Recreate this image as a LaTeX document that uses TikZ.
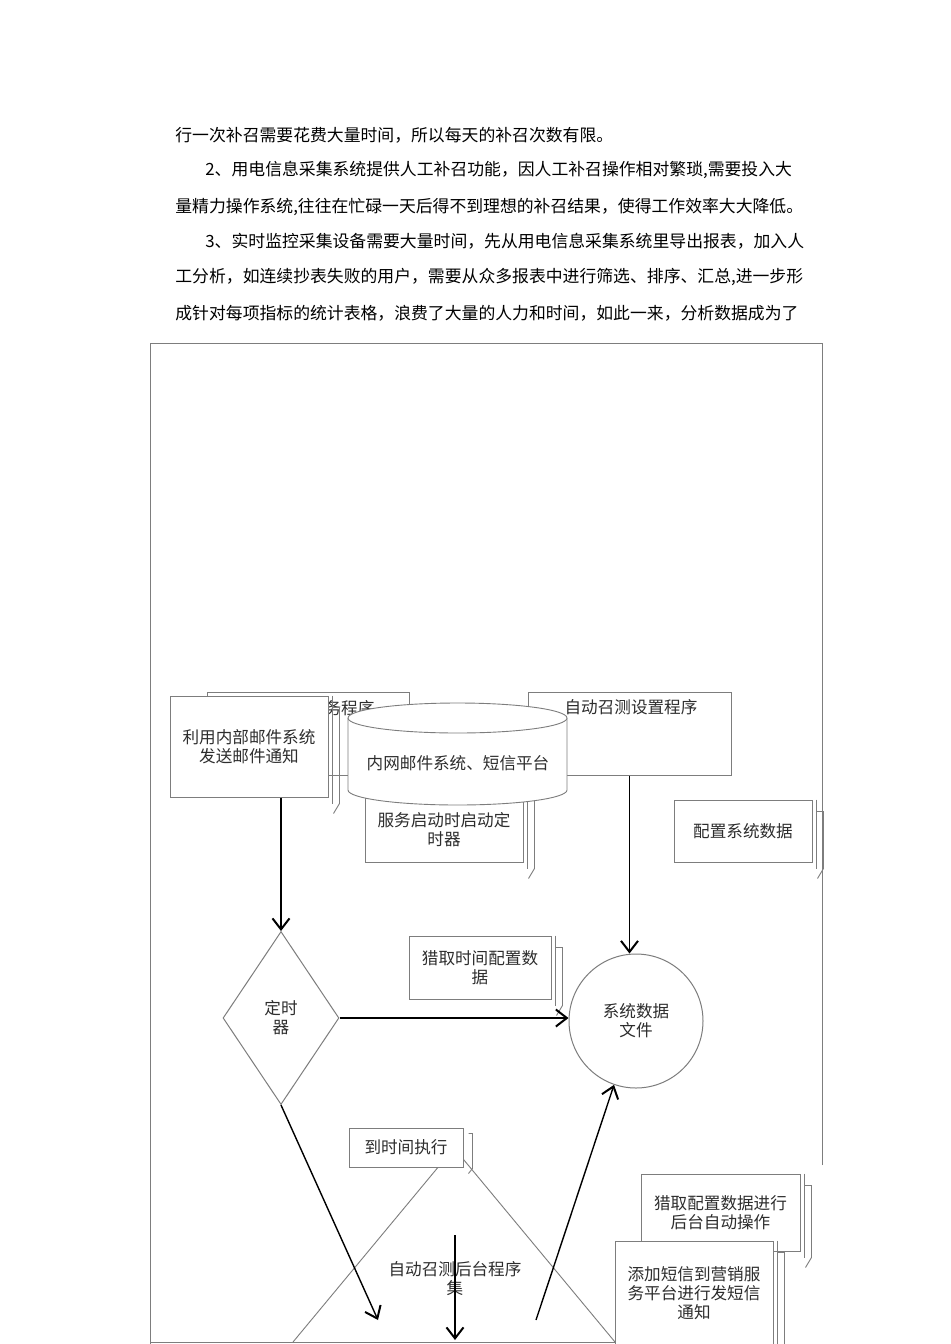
\documentclass[tikz,border=0pt]{standalone}
\usepackage{fontspec}
\setmainfont{Noto Sans CJK SC}
\usepackage{tikz}
\usetikzlibrary{arrows.meta,calc,positioning,shapes.geometric}
\definecolor{boxgray}{RGB}{125,125,125}
\definecolor{textgray}{RGB}{45,45,45}
\newcommand{\sidebrk}[1]{%
  \draw[thinline] ($(#1.north east)+(4,0)$) -- ($(#1.south east)+(4,6)$);
  \draw[thinline] ($(#1.north east)+(4,12)$) -- ++(7,0) -- ($(#1.south east)+(11,6)$) -- ++(-6,10);
}
\begin{document}
\begin{tikzpicture}[x=0.5pt,y=-0.5pt,
    sz/.style 2 args={minimum width=#1*0.5pt,minimum height=#2*0.5pt},
    box/.style={draw=boxgray,fill=white,line width=0.5pt,inner sep=0pt,align=center,text=textgray,font=\fontsize{8.3}{9.5}\selectfont},
    lbl/.style={inner sep=0pt,align=center,text=textgray,font=\fontsize{8.3}{9.5}\selectfont},
    para/.style={anchor=west,inner sep=0pt,font=\fontsize{8.42}{10}\selectfont},
    thinline/.style={draw=boxgray,line width=0.45pt},
    arr/.style={draw=black,line width=0.7pt,-{Straight Barb[length=5.5pt,width=8.5pt,line width=1pt]}}]
  \useasboundingbox[fill=white] (0,0) rectangle (950,1344);

  % text above the figure
  \node[para] (par1) at (175,135) {行一次补召需要花费大量时间，所以每天的补召次数有限。};
  \node[para] (par2) at (205,170) {2、用电信息采集系统提供人工补召功能，因人工补召操作相对繁琐,需要投入大};
  \node[para] (par3) at (175,207) {量精力操作系统,往往在忙碌一天后得不到理想的补召结果，使得工作效率大大降低。};
  \node[para] (par4) at (205,241) {3、实时监控采集设备需要大量时间，先从用电信息采集系统里导出报表，加入人};
  \node[para] (par5) at (175,277) {工分析，如连续抄表失败的用户，需要从众多报表中进行筛选、排序、汇总,进一步形};
  \node[para] (par6) at (175,313) {成针对每项指标的统计表格，浪费了大量的人力和时间，如此一来，分析数据成为了};

  % frame
  \draw[thinline] (822,1165) -- (822,343) -- (150,343) -- (150,1344);
  \draw[thinline] (150,1342) -- (773,1342);

  % upper boxes
  \node[box,sz={202}{83}] (svcprog) at (308,733.5) {};
  \node[lbl] (svcprog-t) at (308,708) {自动召测服务程序};
  \node[box,sz={158}{101}] (mailbox) at (249,746.5) {利用内部邮件系统\\发送邮件通知};
  \sidebrk{mailbox}
  \node[box,sz={203}{83}] (setup) at (629.5,733.5) {};
  \node[lbl] (setup-t) at (631,707) {自动召测设置程序};
  \node[box,sz={158}{82}] (svcstart) at (444,821) {};
  \node[lbl] (svcstart-t) at (444,830) {服务启动时启动定\\时器};
  \sidebrk{svcstart}

  % cylinder
  \fill[white] (348,718) -- (348,790) arc[start angle=180,end angle=360,x radius=54.75pt,y radius=7.5pt] -- (567,718) -- cycle;
  \draw[thinline] (348,718) -- (348,790) arc[start angle=180,end angle=360,x radius=54.75pt,y radius=7.5pt] -- (567,718);
  \filldraw[thinline,fill=white] (457.5,718) ellipse[x radius=54.75pt,y radius=7.5pt];
  \node[lbl] (mailsys) at (458,763) {内网邮件系统、短信平台};

  \node[box,sz={138}{62}] (config) at (743,831) {配置系统数据};
  \sidebrk{config}

  % middle
  \node[box,diamond,sz={116}{173}] (timer) at (281,1018) {定时\\器};
  \node[box,sz={142}{63}] (gettime) at (480,967.5) {猎取时间配置数\\据};
  \sidebrk{gettime}
  \node[box,circle,minimum size=134*0.5pt] (datafile) at (636,1021) {系统数据\\文件};

  \draw[arr] (mailbox.south -| timer.north) -- (timer.north);
  \draw[arr] (setup.south) -- (setup.south |- datafile.north);
  \draw[arr] (timer.east) -- (timer.east -| datafile.west);

  % lower part
  \coordinate (apex) at (454,1148);
  \coordinate (baseL) at (293,1342);
  \coordinate (baseR) at (615,1342);
  \draw[thinline] (baseL) -- (apex) -- (baseR);
  \node[lbl] (backend) at (455,1279) {自动召测后台程序\\集};
  \node[box,sz={114}{39}] (attime) at (406,1147.5) {到时间执行};
  \draw[thinline] (attime.north east) ++(5,6) -- ++(4,0) -- ++(0,35) -- ++(-4,5);

  \coordinate (trigend) at (378,1320);
  \coordinate (retstart) at (536,1320);
  \coordinate (runtop) at (455,1235);
  \coordinate (runbot) at (455,1340);
  \draw[arr] (timer.south) -- (trigend);
  \draw[arr] (retstart) -- (datafile.251);
  \draw[arr] (runtop) -- (runbot);

  \node[box,sz={159}{77}] (autoop) at (720.5,1212.5) {猎取配置数据进行\\后台自动操作};
  \sidebrk{autoop}
  \node[box,sz={158}{104}] (sms) at (694,1293) {添加短信到营销服\\务平台进行发短信\\通知};
  \sidebrk{sms}
\end{tikzpicture}
\end{document}
